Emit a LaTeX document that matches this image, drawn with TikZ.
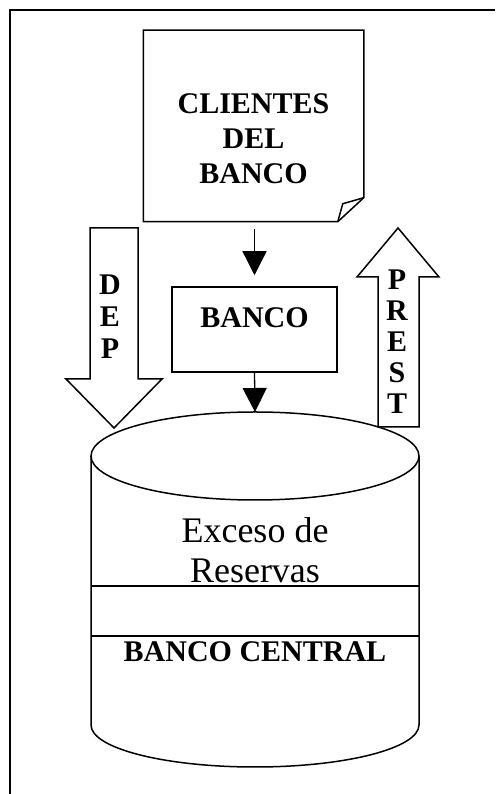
\documentclass[tikz,border=0pt]{standalone}
\usepackage{fontspec}
\setmainfont{Liberation Serif}
\usetikzlibrary{arrows.meta}

\begin{document}
\begin{tikzpicture}[x=1pt, y=1pt, draw=black, line width=1.5pt,
  bold/.style={font=\fontsize{30}{35}\selectfont\bfseries, align=center, inner sep=0pt},
  flow/.style={-{Triangle[length=24pt,width=24pt]}, line width=1.3pt}]
\useasboundingbox (0,0) rectangle (495,794);

% frame
\draw (10,0) -- (10,784) -- (495,784);

% clientes (sheet with folded corner)
\node[minimum width=219pt, minimum height=190pt, inner sep=0pt] (clientes) at (253.5,668) {};
\draw (clientes.north west) -- (clientes.north east) -- ([yshift=24pt]clientes.south east)
  -- ([xshift=-26pt]clientes.south east) -- (clientes.south west) -- cycle;
\draw ([xshift=-26pt]clientes.south east) -- ++(5,18) -- ([yshift=24pt]clientes.south east);
\node[bold] (clientestxt) at (253.5,655) {CLIENTES\\DEL\\BANCO};

% banco
\node[draw, minimum width=165pt, minimum height=85pt] (banco) at (254.5,464.5) {};
\node[bold] (bancotxt) at (254.5,476) {BANCO};

% reservas
\coordinate (cyl) at (255,338);
\coordinate (cyltop) at (255,382);
\draw (cyl) ellipse [x radius=164, y radius=44];
\draw (91,338) -- (91,69) arc[start angle=180, end angle=360, x radius=164, y radius=42] -- (419,338);
\draw (91,208) -- (419,208);
\draw (91,158) -- (419,158);
\node[font=\fontsize{36}{40}\selectfont, align=center, inner sep=0pt] (exceso) at (255,244) {Exceso de\\Reservas};
\node[bold] (central) at (255,142) {BANCO CENTRAL};

\draw[flow, shorten <=7pt, shorten >=11pt] (clientes.south -| banco) -- (banco.north);
\draw[flow] (banco.south) -- (cyltop);

% DEP
\draw (90,566) -- (138,566) -- (138,415) -- (162,415) -- (114,366) -- (66,415) -- (90,415) -- cycle;
\node[bold, font=\fontsize{30}{32}\selectfont\bfseries] (dep) at (110,477) {D\\E\\P};

% PREST
\draw (378,367) -- (378,517) -- (357,517) -- (398,566) -- (439,517) -- (419,517) -- (419,367) -- cycle;
\node[bold, font=\fontsize{30}{31}\selectfont\bfseries] (prest) at (397,452) {P\\R\\E\\S\\T};
\end{tikzpicture}
\end{document}
